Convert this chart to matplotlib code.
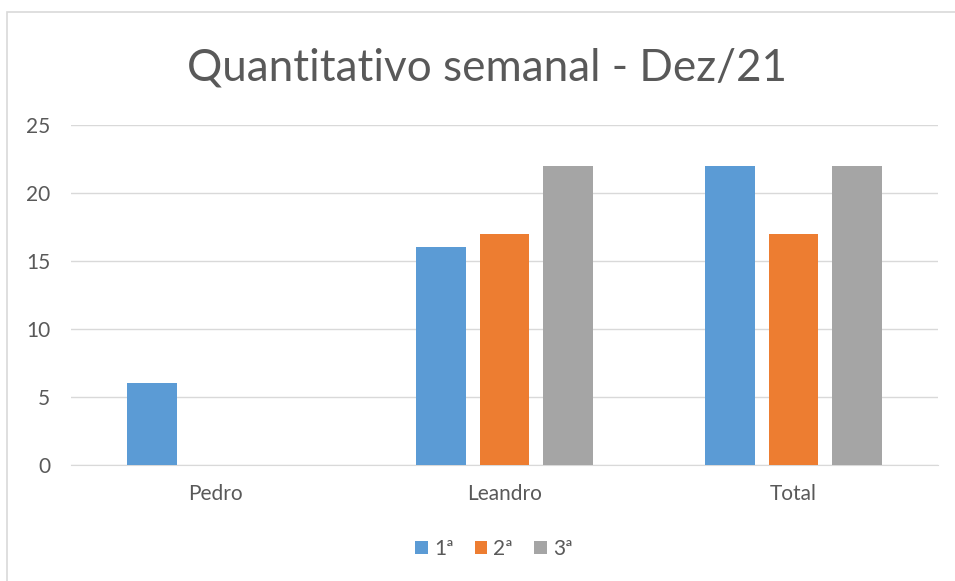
import numpy as np
import matplotlib.pyplot as plt
from matplotlib.patches import Rectangle

# Chart data
categorias = ['Pedro', 'Leandro', 'Total']
semana_1 = [6, 16, 22]
semana_2 = [0, 17, 17]
semana_3 = [0, 22, 22]
series = ['1ª', '2ª', '3ª']
cores = ['#5b9bd5', '#ed7d31', '#a5a5a5']

plt.rcParams['font.family'] = ['Lato', 'DejaVu Sans']

fig = plt.figure(figsize=(9.55, 5.81), dpi=100)
ax = fig.add_axes([71 / 955, 1 - 465 / 581, (938 - 71) / 955, (465 - 125) / 581])

# outer chart border (only left/top visible in the reference)
fig.patches.append(Rectangle((7 / 955, -0.1), 1.2, 1 - 12 / 581 + 0.1,
                             transform=fig.transFigure, fill=False,
                             edgecolor='#d9d9d9', linewidth=1.2))

x = np.arange(len(categorias))
largura = 0.173
passo = 0.221
for i, (valores, nome, cor) in enumerate(zip([semana_1, semana_2, semana_3], series, cores)):
    ax.bar(x + (i - 1) * passo, valores, width=largura, color=cor, label=nome, zorder=3)

ax.set_xlim(-0.5, 2.5)
ax.set_ylim(0, 25)
ax.set_yticks(range(0, 26, 5))
ax.set_xticks(x)
ax.set_xticklabels(categorias)
ax.grid(axis='y', color='#d9d9d9', linewidth=1, zorder=0)
for s in ['top', 'right', 'left']:
    ax.spines[s].set_visible(False)
ax.spines['bottom'].set_color('#d9d9d9')
ax.tick_params(axis='both', length=0, labelsize=15, colors='#595959')
ax.tick_params(axis='y', pad=15)
ax.tick_params(axis='x', pad=14)

fig.text(487 / 955, 1 - 68 / 581, 'Quantitativo semanal - Dez/21', ha='center', va='center',
         fontsize=31.7, color='#595959')

fig.legend(loc='center', bbox_to_anchor=(494 / 955, 1 - 549 / 581), ncol=3, frameon=False,
           fontsize=15, labelcolor='#595959', handlelength=0.6, handleheight=0.6,
           handletextpad=0.3, columnspacing=1.0)

fig.savefig('out.png', dpi=100)
